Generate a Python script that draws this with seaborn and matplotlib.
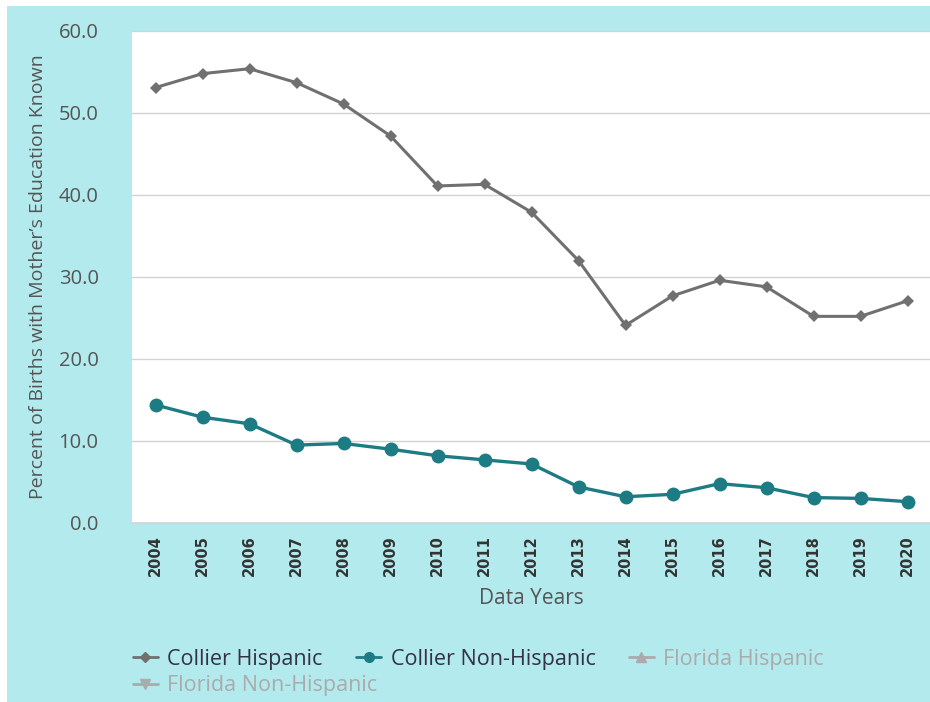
import matplotlib
matplotlib.use("Agg")
import matplotlib.pyplot as plt
from matplotlib.lines import Line2D
from matplotlib.patches import Rectangle
import seaborn as sns
import pandas as pd

years = list(range(2004, 2021))
collier_hispanic = [53.1, 54.8, 55.4, 53.7, 51.1, 47.2, 41.1, 41.3, 37.9, 32.0,
                    24.1, 27.7, 29.6, 28.8, 25.2, 25.2, 27.1]
collier_non_hispanic = [14.4, 12.9, 12.1, 9.5, 9.7, 9.0, 8.2, 7.7, 7.2, 4.4,
                        3.2, 3.5, 4.8, 4.3, 3.1, 3.0, 2.6]
series_names = ["Collier Hispanic", "Collier Non-Hispanic", "Florida Hispanic", "Florida Non-Hispanic"]
y_ticks = [0, 10, 20, 30, 40, 50, 60]

BG = "#b3eaed"
GRAY = "#707070"
TEAL = "#1d7b84"
LIGHT = "#ababab"

sns.set_theme(style="white")
plt.rcParams["font.family"] = ["Open Sans", "DejaVu Sans"]

fig = plt.figure(figsize=(9.30, 7.02), dpi=100)
fig.patch.set_facecolor("white")
fig.patches.append(Rectangle((7 / 930, 0), 1, (702 - 6) / 702, transform=fig.transFigure,
                             facecolor=BG, edgecolor="none", zorder=-10))

ax = fig.add_axes([132 / 930, (702 - 523) / 702, (931 - 132) / 930, (523 - 31) / 702])
ax.set_facecolor("white")

df = pd.DataFrame({
    "year": years * 2,
    "value": collier_hispanic + collier_non_hispanic,
    "series": [series_names[0]] * len(years) + [series_names[1]] * len(years),
})

sns.lineplot(data=df[df.series == series_names[0]], x="year", y="value", ax=ax,
             color=GRAY, marker="D", markersize=6.5, linewidth=2.2, markeredgewidth=0,
             legend=False, zorder=3)
sns.lineplot(data=df[df.series == series_names[1]], x="year", y="value", ax=ax,
             color=TEAL, marker="o", markersize=10, linewidth=2.4, markeredgewidth=0,
             legend=False, zorder=3)

ax.set_xlim(2003.5, 2020.5)
ax.set_ylim(0, 60)
ax.set_yticks(y_ticks)
ax.set_yticklabels([f"{v:.1f}" for v in y_ticks], fontsize=14.5, color="#555555")
ax.set_xticks(years)
ax.set_xticklabels([str(y) for y in years], rotation=90, fontsize=10.5,
                   fontweight="bold", color="#333333", family=["DejaVu Sans"])
ax.set_xticks([y - 0.5 for y in years] + [2020.5], minor=True)
ax.tick_params(axis="x", which="major", length=0, pad=9)
ax.tick_params(axis="x", which="minor", length=12, width=1, color="#d4d4d4")
ax.tick_params(axis="y", length=0, pad=24)
for t in ax.get_yticklabels():
    t.set_horizontalalignment("right")

ax.grid(axis="y", color="#d2d2d2", linewidth=1)
ax.grid(axis="x", visible=False)
for side in ["left", "right", "top"]:
    ax.spines[side].set_visible(False)
ax.spines["bottom"].set_color("#d4d4d4")
ax.spines["bottom"].set_linewidth(1.2)

ax.set_xlabel("Data Years", fontsize=15, color="#555555")
ax.set_ylabel("Percent of Births with Mother\u2019s Education Known", fontsize=14,
              color="#555555")
ax.yaxis.set_label_coords(-0.107, 0.5)
ax.xaxis.set_label_coords(0.5, -0.133)

FS = 15.5
h1 = [Line2D([], [], color=GRAY, marker="D", markersize=5, lw=2),
      Line2D([], [], color=TEAL, marker="o", markersize=7, lw=2),
      Line2D([], [], color=LIGHT, marker="^", markersize=7, lw=2)]
leg1 = fig.legend(h1, series_names[:3], ncol=3, loc="center left",
                  bbox_to_anchor=(133 / 930, 1 - 659 / 702), frameon=False,
                  fontsize=FS, handlelength=1.15, handletextpad=0.45, columnspacing=1.55,
                  borderpad=0, borderaxespad=0)
for txt, c in zip(leg1.get_texts(), ["#333344", "#333344", LIGHT]):
    txt.set_color(c)
h2 = [Line2D([], [], color=LIGHT, marker="v", markersize=7, lw=2)]
leg2 = fig.legend(h2, series_names[3:], loc="center left",
                  bbox_to_anchor=(133 / 930, 1 - 686 / 702), frameon=False,
                  fontsize=FS, handlelength=1.15, handletextpad=0.45,
                  borderpad=0, borderaxespad=0)
leg2.get_texts()[0].set_color(LIGHT)

fig.savefig("out.png", dpi=100, facecolor=fig.get_facecolor())
